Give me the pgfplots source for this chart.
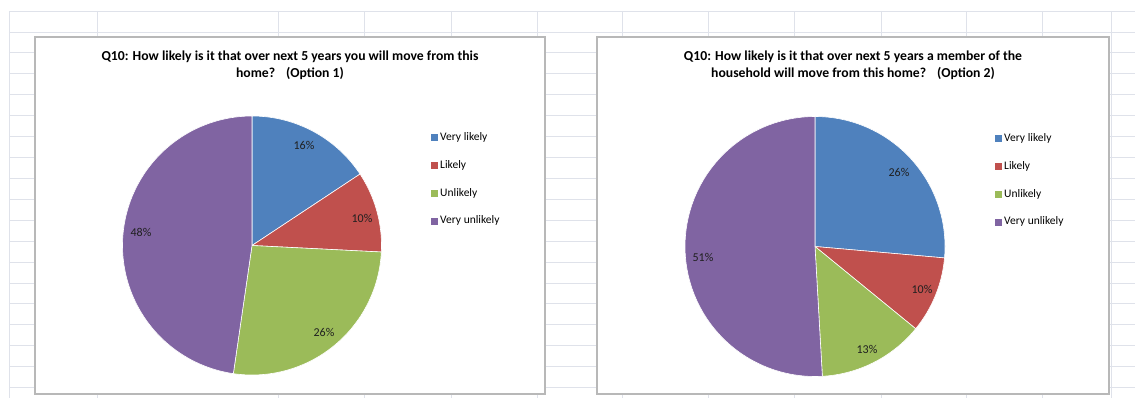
\documentclass[border=0pt]{standalone}
\usepackage{fontspec}
\setmainfont{Carlito}
\usepackage{pgfplots}
\pgfplotsset{compat=1.18}
\definecolor{xblue}{HTML}{4F81BD}
\definecolor{xred}{HTML}{C0504D}
\definecolor{xgreen}{HTML}{9BBB59}
\definecolor{xpurple}{HTML}{8064A2}
\definecolor{gridc}{HTML}{DFE2EA}
\definecolor{framec}{HTML}{B8B8B8}
\definecolor{labc}{HTML}{202020}

% slice: cx, cy, radius, start %, end %, colour
\newcommand{\pieslice}[6]{%
  \addplot[fill=#6, draw=white, line width=0.6pt, domain=#4*3.6:#5*3.6,
    samples=90, variable=\t, forget plot]
    ({#1+#3*sin(\t)},{#2-#3*cos(\t)}) -- (axis cs:#1,#2) -- cycle;}

\pgfplotsset{
  chart/.style={
    scale only axis, y dir=reverse, clip=false,
    xtick=\empty, ytick=\empty,
    axis line style={framec, line width=1.3pt},
    axis background/.style={fill=white},
    legend image code/.code={\fill[##1, draw=none] (0pt,-3.5pt) rectangle (7pt,3.5pt);},
    legend cell align=left,
    legend style={draw=none, fill=none, font=\fontsize{11.5}{13}\selectfont,
      nodes={inner sep=0pt, inner xsep=2pt, text height=8pt, text depth=2.5pt, anchor=west},
      row sep=17.2pt, anchor=west},
  },
}
\tikzset{
  labnode/.style={font=\fontsize{12}{14}\selectfont, text=labc, inner sep=0pt},
  titlenode/.style={font=\bfseries\fontsize{13.7}{17}\selectfont, align=center, inner sep=0pt},
}

\begin{document}
\begin{tikzpicture}
\useasboundingbox (0,0) rectangle (1135pt,398pt);

% spreadsheet grid
\begin{axis}[at={(9pt,0pt)}, anchor=south west, scale only axis,
  width=1126pt, height=387pt, xmin=9, xmax=1135, ymin=11, ymax=398, y dir=reverse,
  xtick={9,97,278,364,451,537,622,708,794,881,966,1042,1111},
  ytick={11,32,52,73,94,115,136,157,178,199,220,241,262,283,303,324,345,366,387},
  xticklabels={}, yticklabels={}, major tick length=0pt,
  axis line style={draw=none}, grid=major, major grid style={gridc, line width=0.9pt}]
\end{axis}

% Chart 1
\begin{axis}[chart, at={(35pt,4pt)}, anchor=south west, width=510pt, height=357pt,
  xmin=35, xmax=545, ymin=37, ymax=394,
  legend style={at={(axis cs:428,179.5)}}]
\pieslice{252}{245.5}{129.5}{0}{15.7}{xblue}
\pieslice{252}{245.5}{129.5}{15.7}{25.8}{xred}
\pieslice{252}{245.5}{129.5}{25.8}{52.3}{xgreen}
\pieslice{252}{245.5}{129.5}{52.3}{100}{xpurple}
\addlegendimage{fill=xblue}\addlegendentry{Very likely}
\addlegendimage{fill=xred}\addlegendentry{Likely}
\addlegendimage{fill=xgreen}\addlegendentry{Unlikely}
\addlegendimage{fill=xpurple}\addlegendentry{Very unlikely}
\node[labnode] at (axis cs:304,145) {16\%};
\node[labnode] at (axis cs:362,218) {10\%};
\node[labnode] at (axis cs:324,332) {26\%};
\node[labnode] at (axis cs:141,232) {48\%};
\node[titlenode] at (axis cs:290,65) {Q10: How likely is it that over next 5 years you will move from this\\home?\hspace{11pt}(Option 1)};
\end{axis}

% Chart 2
\begin{axis}[chart, at={(597pt,4pt)}, anchor=south west, width=512pt, height=357pt,
  xmin=597, xmax=1109, ymin=37, ymax=394,
  legend style={at={(axis cs:992,180.5)}}]
\pieslice{815}{246.5}{130}{0}{26.4}{xblue}
\pieslice{815}{246.5}{130}{26.4}{35.9}{xred}
\pieslice{815}{246.5}{130}{35.9}{49.1}{xgreen}
\pieslice{815}{246.5}{130}{49.1}{100}{xpurple}
\addlegendimage{fill=xblue}\addlegendentry{Very likely}
\addlegendimage{fill=xred}\addlegendentry{Likely}
\addlegendimage{fill=xgreen}\addlegendentry{Unlikely}
\addlegendimage{fill=xpurple}\addlegendentry{Very unlikely}
\node[labnode] at (axis cs:899,172) {26\%};
\node[labnode] at (axis cs:922,289) {10\%};
\node[labnode] at (axis cs:867,349) {13\%};
\node[labnode] at (axis cs:703,257) {51\%};
\node[titlenode] at (axis cs:853,65) {Q10: How likely is it that over next 5 years a member of the\\household will move from this home?\hspace{11pt}(Option 2)};
\end{axis}
\end{tikzpicture}
\end{document}
